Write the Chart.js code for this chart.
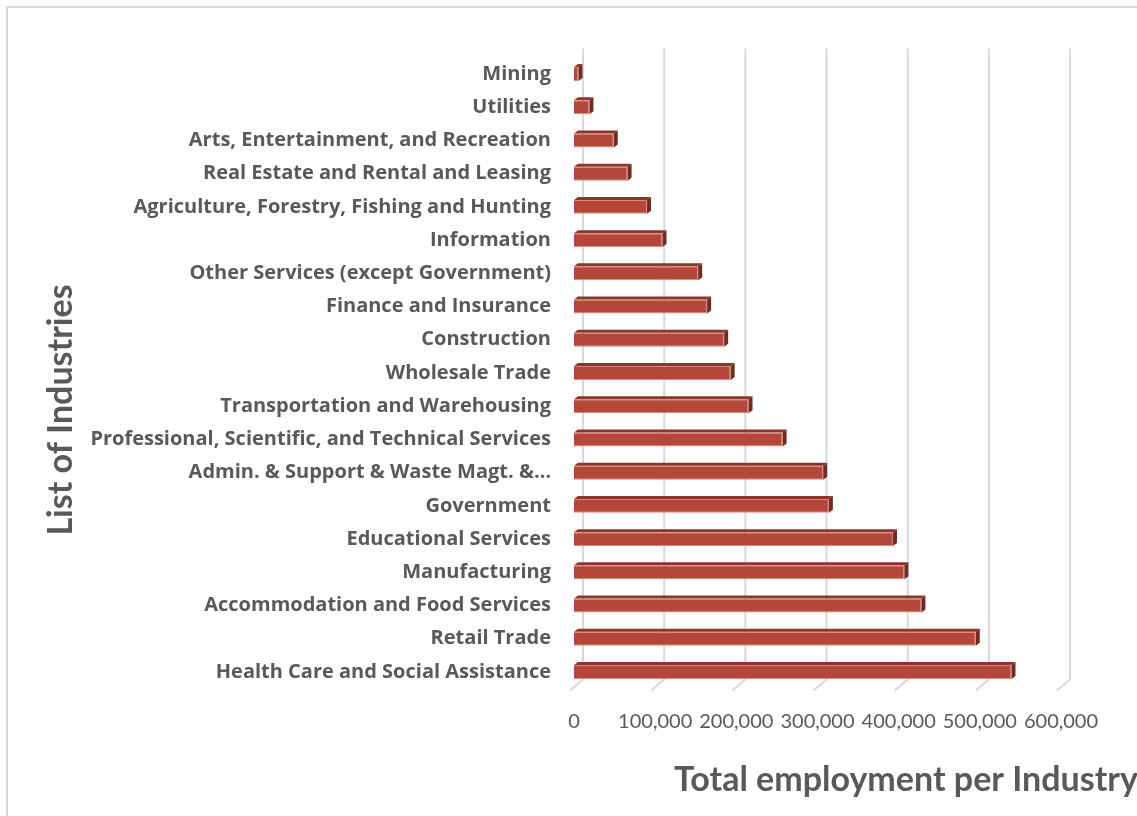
<!DOCTYPE html>
<html>
<head>
<meta charset="utf-8">
<script src="https://cdn.jsdelivr.net/npm/chart.js@4"></script>
<style>
  html, body { margin: 0; padding: 0; background: #fff; overflow: hidden; }
  #wrap { position: relative; width: 1137px; height: 816px; }
  #frame { position: absolute; left: 6px; top: 6px; width: 1400px; height: 1000px;
           border: 2px solid #d9d9d9; box-sizing: border-box; }
  canvas { position: absolute; left: 0; top: 0; }
</style>
</head>
<body>
<div id="wrap">
  <div id="frame"></div>
  <canvas id="industryChart" width="1137" height="816"></canvas>
</div>
<script>
const industries = [
    'Mining',
    'Utilities',
    'Arts, Entertainment, and Recreation',
    'Real Estate and Rental and Leasing',
    'Agriculture, Forestry, Fishing and Hunting',
    'Information',
    'Other Services (except Government)',
    'Finance and Insurance',
    'Construction',
    'Wholesale Trade',
    'Transportation and Warehousing',
    'Professional, Scientific, and Technical Services',
    'Admin. & Support & Waste Magt. &…',
    'Government',
    'Educational Services',
    'Manufacturing',
    'Accommodation and Food Services',
    'Retail Trade',
    'Health Care and Social Assistance',
];
const employment = [
    5500, 19000, 49000, 66000, 90000, 109000, 153000, 164000, 185000, 193000,
    215000, 257000, 307000, 314000, 393000, 407000, 428000, 495000, 539000,
];
const xTicks = [0, 100000, 200000, 300000, 400000, 500000, 600000];
const xTitle = 'Total employment per Industry';
const yTitle = 'List of Industries';

const textColor = '#595959';
const gridColor = '#d9d9d9';

// gridlines sit on the back wall, a bit to the right of the bar fronts
const wallPlugin = {
    id: 'wall',
    beforeDatasetsDraw(chart) {
        const {ctx, chartArea, scales: {x}} = chart;
        ctx.save();
        ctx.strokeStyle = gridColor;
        ctx.lineWidth = 2;
        xTicks.forEach(v => {
            const px = x.getPixelForValue(v) + 9;
            ctx.beginPath();
            ctx.moveTo(px, chartArea.top - 9);
            ctx.lineTo(px, chartArea.bottom - 9);
            ctx.lineTo(px - 13, chartArea.bottom + 2);
            ctx.stroke();
        });
        ctx.restore();
    },
};

// top and side faces of the 3D bars
const bar3dPlugin = {
    id: 'bar3d',
    afterDatasetsDraw(chart) {
        const {ctx} = chart;
        const dx = 4, dy = 3;
        ctx.save();
        chart.getDatasetMeta(0).data.forEach(bar => {
            const {x, y, base, height} = bar.getProps(['x', 'y', 'base', 'height'], true);
            const top = y - height / 2;
            const bottom = y + height / 2;
            ctx.fillStyle = '#8e3429';
            ctx.beginPath();
            ctx.moveTo(base, top);
            ctx.lineTo(base + dx, top - dy);
            ctx.lineTo(x + dx, top - dy);
            ctx.lineTo(x, top);
            ctx.closePath();
            ctx.fill();
            ctx.fillStyle = '#732a21';
            ctx.beginPath();
            ctx.moveTo(x, top);
            ctx.lineTo(x + dx, top - dy);
            ctx.lineTo(x + dx, bottom - dy);
            ctx.lineTo(x, bottom);
            ctx.closePath();
            ctx.fill();
        });
        ctx.restore();
    },
};

const titlesPlugin = {
    id: 'titles',
    afterDraw(chart) {
        const {ctx, chartArea} = chart;
        ctx.save();
        ctx.fillStyle = textColor;
        ctx.font = 'bold 34px Lato';
        ctx.textBaseline = 'alphabetic';
        ctx.textAlign = 'left';
        ctx.fillText(xTitle, chartArea.left + 100, 791);
        ctx.translate(72, 410);
        ctx.rotate(-Math.PI / 2);
        ctx.textAlign = 'center';
        ctx.fillText(yTitle, 0, 0);
        ctx.restore();
    },
};

new Chart(document.getElementById('industryChart'), {
    type: 'bar',
    data: {
        labels: industries,
        datasets: [{
            label: 'Total employment',
            data: employment,
            backgroundColor: '#b4473a',
            borderColor: '#d78a80',
            borderWidth: 1,
            barPercentage: 0.42,
            categoryPercentage: 1,
        }],
    },
    options: {
        indexAxis: 'y',
        responsive: false,
        animation: false,
        layout: {
            padding: {left: 0, top: 57.4, right: 76, bottom: 0}
        },
        plugins: {
            legend: {display: false},
            tooltip: {enabled: false},
        },
        scales: {
            x: {
                min: 0,
                max: 600000,
                afterBuildTicks(scale) {
                    scale.ticks = xTicks.map(v => ({value: v}));
                },
                afterFit(scale) {
                    scale.height = 127.4;
                },
                grid: {display: false, drawTicks: false},
                border: {display: false},
                ticks: {
                    padding: 21,
                    color: textColor,
                    font: {family: 'Lato', size: 20},
                    callback: v => v.toLocaleString('en-US'),
                },
            },
            y: {
                afterFit(scale) {
                    scale.width = 574;
                },
                grid: {display: false, drawTicks: false},
                border: {display: false},
                ticks: {
                    padding: 23,
                    color: textColor,
                    autoSkip: false,
                    font: {family: 'Open Sans', size: 20, weight: 'bold'},
                },
            },
        },
    },
    plugins: [wallPlugin, bar3dPlugin, titlesPlugin],
});
</script>
</body>
</html>
